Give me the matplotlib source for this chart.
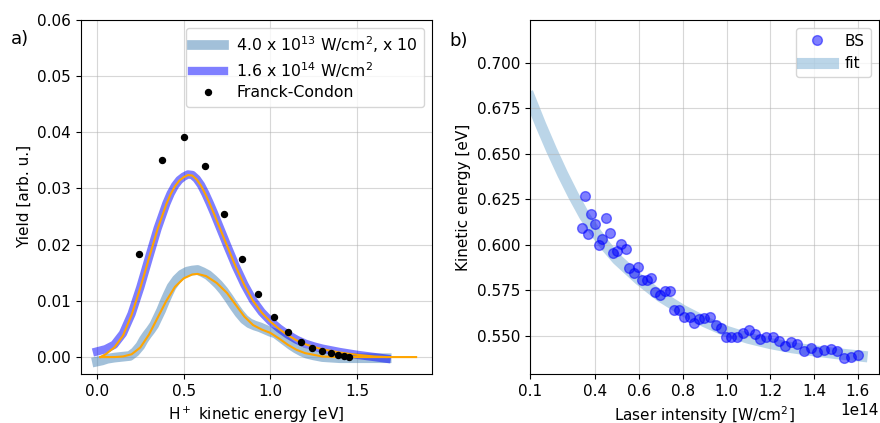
import matplotlib
matplotlib.use("Agg")
import matplotlib.pyplot as plt
import numpy as np

plt.rcParams['font.size'] = 11

# a) yield spectra, 1.6e14 W/cm2
hi_x = [0.0, 0.05, 0.1, 0.15, 0.2, 0.25, 0.3, 0.35, 0.4, 0.425, 0.45, 0.475,
        0.5, 0.525, 0.55, 0.575, 0.6, 0.625, 0.65, 0.675, 0.7, 0.75, 0.8, 0.85,
        0.9, 0.95, 1.0, 1.05, 1.1, 1.15, 1.2, 1.25, 1.3, 1.4, 1.5, 1.6, 1.67]
hi_y = [0.0010, 0.0014, 0.0022, 0.0042, 0.0077, 0.0124, 0.0177, 0.0229, 0.0273,
        0.0291, 0.0305, 0.0315, 0.0321, 0.0325, 0.0324, 0.0317, 0.0306, 0.0291,
        0.0274, 0.0256, 0.0237, 0.0199, 0.0162, 0.0129, 0.0101, 0.0080, 0.0064,
        0.0051, 0.0040, 0.0031, 0.0024, 0.0019, 0.0015, 0.0009, 0.0004, 0.0000,
        -0.0003]
hi_fit_x = [0.02, 0.05, 0.075, 0.1, 0.15, 0.2, 0.25, 0.3, 0.35, 0.4, 0.425,
            0.45, 0.475, 0.5, 0.525, 0.55, 0.575, 0.6, 0.625, 0.65, 0.675, 0.7,
            0.75, 0.8, 0.85, 0.9, 0.95, 1.0, 1.05, 1.1, 1.15, 1.2, 1.25, 1.3,
            1.4, 1.5, 1.6, 1.67]
hi_fit_y = [0.0, 0.0005, 0.0011, 0.0017, 0.0038, 0.0075, 0.0123, 0.0176, 0.0228,
            0.0272, 0.0290, 0.0304, 0.0314, 0.0320, 0.0324, 0.0323, 0.0316,
            0.0305, 0.0290, 0.0273, 0.0255, 0.0236, 0.0198, 0.0161, 0.0128,
            0.0100, 0.0079, 0.0063, 0.0050, 0.0039, 0.0030, 0.0023, 0.0018,
            0.0014, 0.0008, 0.0004, 0.0001, 0.0]

# a) 4.0e13 W/cm2, x10
lo_x = [0.0, 0.03, 0.06, 0.1, 0.13, 0.16, 0.19, 0.22, 0.25, 0.27, 0.29, 0.31,
        0.33, 0.35, 0.37, 0.39, 0.41, 0.43, 0.46, 0.49, 0.52, 0.55, 0.58, 0.61,
        0.64, 0.67, 0.70, 0.73, 0.76, 0.79, 0.82, 0.85, 0.88, 0.91, 0.94, 0.97,
        1.0, 1.03, 1.06, 1.09, 1.12, 1.15, 1.18, 1.21, 1.25, 1.3, 1.4, 1.5,
        1.6, 1.67]
lo_y = [-0.0008, -0.0006, -0.0003, -0.0001, 0.0, 0.0001, 0.0002, 0.0009, 0.0020,
        0.0031, 0.0040, 0.0048, 0.0057, 0.0070, 0.0083, 0.0098, 0.0112, 0.0125,
        0.0138, 0.0147, 0.0152, 0.0154, 0.0155, 0.0151, 0.0146, 0.0138, 0.0129,
        0.0118, 0.0105, 0.0091, 0.0078, 0.0067, 0.0060, 0.0056, 0.0053, 0.0049,
        0.0045, 0.0042, 0.0035, 0.0028, 0.0021, 0.0015, 0.0010, 0.0006, 0.0003,
        0.0, -0.0002, -0.0002, -0.0002, -0.0002]
lo_fit_x = [0.02, 0.1, 0.15, 0.2, 0.25, 0.3, 0.35, 0.4, 0.45, 0.5, 0.55, 0.58,
            0.63, 0.69, 0.75, 0.8, 0.85, 0.9, 0.95, 1.0, 1.05, 1.1, 1.15, 1.2,
            1.3, 1.4, 1.84]
lo_fit_y = [0.0, 0.0, 0.0001, 0.0005, 0.0017, 0.0040, 0.0070, 0.0100, 0.0125,
            0.0140, 0.0147, 0.0148, 0.0144, 0.0132, 0.0114, 0.0093, 0.0072,
            0.0057, 0.0049, 0.0043, 0.0033, 0.0022, 0.0013, 0.0007, 0.0001, 0.0,
            0.0]

# Franck-Condon points
fc_x = [0.241, 0.375, 0.501, 0.622, 0.734, 0.838, 0.930, 1.021, 1.101, 1.175,
        1.240, 1.298, 1.348, 1.390, 1.425, 1.454]
fc_y = [0.0184, 0.0350, 0.0392, 0.0340, 0.0255, 0.0175, 0.0113, 0.0071, 0.0044,
        0.0027, 0.0017, 0.0011, 0.0007, 0.0004, 0.0002, 0.0001]

# b) kinetic energy vs intensity (x in 1e14 W/cm2)
bs_x = [0.337, 0.354, 0.368, 0.382, 0.400, 0.415, 0.432, 0.449, 0.466, 0.482,
        0.501, 0.519, 0.540, 0.556, 0.576, 0.595, 0.614, 0.635, 0.655, 0.675,
        0.696, 0.718, 0.740, 0.762, 0.783, 0.805, 0.831, 0.852, 0.875, 0.899,
        0.924, 0.950, 0.973, 0.997, 1.021, 1.047, 1.075, 1.102, 1.128, 1.154,
        1.182, 1.211, 1.239, 1.267, 1.296, 1.324, 1.354, 1.385, 1.415, 1.446,
        1.476, 1.507, 1.536, 1.568, 1.602]
bs_y = [0.6095, 0.6271, 0.6060, 0.6168, 0.6114, 0.6000, 0.6035, 0.6147, 0.6066,
        0.5958, 0.5969, 0.6005, 0.5976, 0.5872, 0.5844, 0.5879, 0.5808, 0.5808,
        0.5817, 0.5742, 0.5723, 0.5745, 0.5749, 0.5643, 0.5643, 0.5606, 0.5606,
        0.5573, 0.5593, 0.5597, 0.5606, 0.5559, 0.5542, 0.5493, 0.5493, 0.5493,
        0.5515, 0.5533, 0.5511, 0.5482, 0.5493, 0.5493, 0.5474, 0.5447, 0.5467,
        0.5456, 0.5416, 0.5436, 0.5414, 0.5421, 0.5429, 0.5416, 0.5377, 0.5383,
        0.5396]
fit_x = [0.1, 0.15, 0.2, 0.25, 0.3, 0.35, 0.4, 0.45, 0.5, 0.6, 0.7, 0.8, 0.9,
         1.0, 1.1, 1.2, 1.3, 1.4, 1.5, 1.62]
fit_y = [0.681, 0.666, 0.652, 0.639, 0.627, 0.616, 0.607, 0.599, 0.592, 0.581,
         0.5715, 0.564, 0.5578, 0.5525, 0.5487, 0.5458, 0.5435, 0.5418, 0.5403,
         0.5388]
b_ticks = [0.1, 0.4, 0.6, 0.8, 1.0, 1.2, 1.4, 1.6]

fig = plt.figure(figsize=(8.8, 4.23), dpi=100)
ax1 = fig.add_axes([0.092, 0.116, 0.399, 0.837])
ax2 = fig.add_axes([0.602, 0.116, 0.3965, 0.837])

ax1.plot(lo_x, lo_y, color='steelblue', alpha=0.5, lw=7,
         solid_joinstyle='round', label='4.0 x 10$^{13}$ W/cm$^2$, x 10')
ax1.plot(hi_x, hi_y, color='blue', alpha=0.5, lw=6,
         solid_joinstyle='round', label='1.6 x 10$^{14}$ W/cm$^2$')
ax1.plot(lo_fit_x, lo_fit_y, color='orange', lw=1.5)
ax1.plot(hi_fit_x, hi_fit_y, color='orange', lw=1.5)
ax1.plot(fc_x, fc_y, 'ko', ms=4.3, label='Franck-Condon')
ax1.set_ylim(-0.003, 0.06)
ax1.set_xlabel('H$^+$ kinetic energy [eV]')
ax1.set_ylabel('Yield [arb. u.]')
ax1.grid(alpha=0.5)
ax1.legend(loc='upper right', fontsize=11.3, labelspacing=0.35)

e14 = 1e14
ax2.plot(np.array(fit_x) * e14, fit_y, color='tab:blue', alpha=0.3, lw=8,
         solid_joinstyle='round', label='fit', zorder=1)
ax2.plot(np.array(bs_x) * e14, bs_y, 'o', color='blue', alpha=0.5, ms=7,
         label='BS', zorder=2)
ax2.set_xticks(np.array(b_ticks) * e14)
ax2.set_xlim(left=0.1 * e14)
ax2.set_ylim(0.5291, 0.7236)
ax2.set_xlabel('Laser intensity [W/cm$^2$]')
ax2.set_ylabel('Kinetic energy [eV]')
ax2.grid(alpha=0.5)
h, l = ax2.get_legend_handles_labels()
ax2.legend(h[::-1], l[::-1], loc='upper right')

fig.text(0.012, 0.895, 'a)', fontsize=13)
fig.text(0.511, 0.892, 'b)', fontsize=13)

fig.savefig('out.png', dpi=100)
